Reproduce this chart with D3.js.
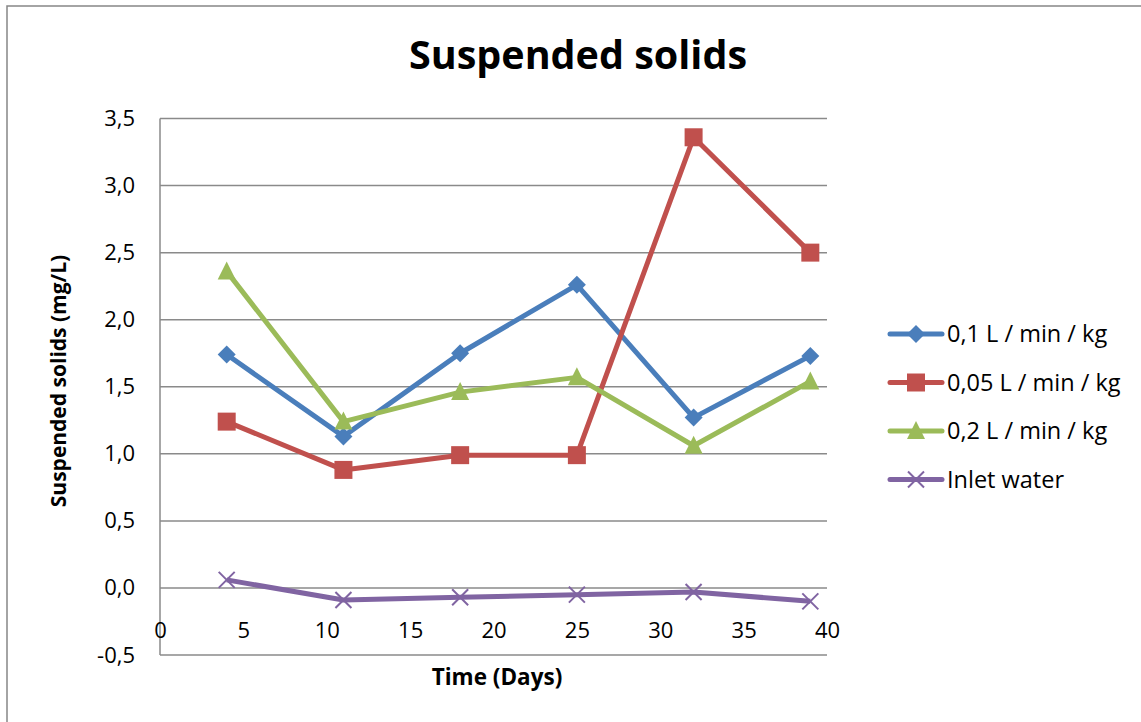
<!DOCTYPE html>
<html>
<head>
<meta charset="utf-8">
<script src="https://cdn.jsdelivr.net/npm/d3@7"></script>
<style>
  body { margin: 0; background: #fff; }
  text { font-family: "Open Sans", "Liberation Sans", sans-serif; }
</style>
</head>
<body>
<div id="chart"></div>
<script>
var width = 1141;
var height = 722;

// data
var days = [4, 11, 18, 25, 32, 39];
var seriesNames = ["0,1 L / min / kg", "0,05 L / min / kg", "0,2 L / min / kg", "Inlet water"];
var flow01 = [1.74, 1.13, 1.75, 2.26, 1.27, 1.73];
var flow005 = [1.24, 0.88, 0.99, 0.99, 3.36, 2.50];
var flow02 = [2.36, 1.24, 1.46, 1.57, 1.06, 1.54];
var inlet = [0.06, -0.09, -0.07, -0.05, -0.03, -0.10];
var xTicks = [0, 5, 10, 15, 20, 25, 30, 35, 40];
var yTicks = [-0.5, 0, 0.5, 1, 1.5, 2, 2.5, 3, 3.5];

var colors = ["#4a7ebb", "#c0504d", "#9bbb59", "#8064a2"];
var symbols = ["diamond", "square", "triangle", "x"];
var allValues = [flow01, flow005, flow02, inlet];

var svg = d3.select("#chart").append("svg")
  .attr("width", width)
  .attr("height", height);

// outer chart frame
svg.append("rect")
  .attr("x", 7).attr("y", 6)
  .attr("width", width + 20).attr("height", height + 20)
  .attr("fill", "#fff")
  .attr("stroke", "#868686")
  .attr("stroke-width", 1.5);

var x = d3.scaleLinear().domain([0, 40]).range([160, 827]);
var y = d3.scaleLinear().domain([-0.5, 3.5]).range([655, 118.5]);

// gridlines
svg.append("g").selectAll("line")
  .data(yTicks)
  .enter().append("line")
  .attr("x1", x(0)).attr("x2", x(40))
  .attr("y1", function(d){ return y(d); })
  .attr("y2", function(d){ return y(d); })
  .attr("stroke", "#8a8a8a")
  .attr("stroke-width", 1.5);

// vertical axis line
svg.append("line")
  .attr("x1", x(0)).attr("x2", x(0))
  .attr("y1", y(3.5)).attr("y2", y(-0.5))
  .attr("stroke", "#8a8a8a")
  .attr("stroke-width", 1.5);

// y tick labels
var yAxis = d3.axisLeft(y)
  .tickValues(yTicks)
  .tickSize(0)
  .tickPadding(25)
  .tickFormat(function(d){ return d3.format(".1f")(d).replace(".", ",").replace("\u2212", "-"); });
var gy = svg.append("g")
  .attr("transform", "translate(" + x(0) + ",0)")
  .call(yAxis);
gy.select(".domain").remove();
gy.selectAll("text")
  .attr("font-size", "22px")
  .attr("fill", "#000")
  .style("font-family", "'Open Sans', sans-serif");

// x tick labels, axis crosses at 0
var xAxis = d3.axisBottom(x)
  .tickValues(xTicks)
  .tickSize(0)
  .tickPadding(50)
  .tickFormat(d3.format("d"));
var gx = svg.append("g")
  .attr("transform", "translate(0," + y(0) + ")")
  .call(xAxis);
gx.select(".domain").remove();
gx.selectAll("text")
  .attr("font-size", "22px")
  .attr("fill", "#000")
  .attr("dy", 0)
  .style("font-family", "'Open Sans', sans-serif");

// title and axis titles
svg.append("text")
  .attr("x", 578).attr("y", 69)
  .attr("text-anchor", "middle")
  .attr("font-size", "39.5px")
  .attr("font-weight", "bold")
  .text("Suspended solids");

svg.append("text")
  .attr("transform", "translate(66," + 381 + ") rotate(-90)")
  .attr("text-anchor", "middle")
  .attr("font-size", "21px")
  .attr("font-weight", "bold")
  .text("Suspended solids (mg/L)");

svg.append("text")
  .attr("x", 497).attr("y", 685)
  .attr("text-anchor", "middle")
  .attr("font-size", "22.5px")
  .attr("font-weight", "bold")
  .text("Time (Days)");

var markerPath = function(kind){
  if (kind === "diamond") return "M0,-9L9,0L0,9L-9,0Z";
  if (kind === "square") return "M-9,-9H9V9H-9Z";
  if (kind === "triangle") return "M0,-10L9,8H-9Z";
  return "M-8,-8L8,8M-8,8L8,-8";
};

var drawMarker = function(g, kind, color){
  var p = g.append("path").attr("d", markerPath(kind));
  if (kind === "x") {
    p.attr("fill", "none").attr("stroke", color).attr("stroke-width", 2);
  } else {
    p.attr("fill", color);
  }
};

var line = d3.line()
  .x(function(d, i){ return x(days[i]); })
  .y(function(d){ return y(d); });

allValues.forEach(function(vals, s){
  svg.append("path")
    .datum(vals)
    .attr("d", line)
    .attr("fill", "none")
    .attr("stroke", colors[s])
    .attr("stroke-width", 5)
    .attr("stroke-linejoin", "round");
  svg.append("g").selectAll("g")
    .data(vals)
    .enter().append("g")
    .attr("transform", function(d, i){ return "translate(" + x(days[i]) + "," + y(d) + ")"; })
    .each(function(){ drawMarker(d3.select(this), symbols[s], colors[s]); });
});

// legend
var legend = svg.append("g");
seriesNames.forEach(function(name, s){
  var ly = 334 + s * 48.5;
  legend.append("line")
    .attr("x1", 890).attr("x2", 942)
    .attr("y1", ly).attr("y2", ly)
    .attr("stroke", colors[s])
    .attr("stroke-width", 5)
    .attr("stroke-linecap", "round");
  drawMarker(legend.append("g").attr("transform", "translate(916," + ly + ")"), symbols[s], colors[s]);
  legend.append("text")
    .attr("x", 947).attr("y", ly + 8)
    .attr("font-size", "23.5px")
    .text(name);
});
</script>
</body>
</html>
